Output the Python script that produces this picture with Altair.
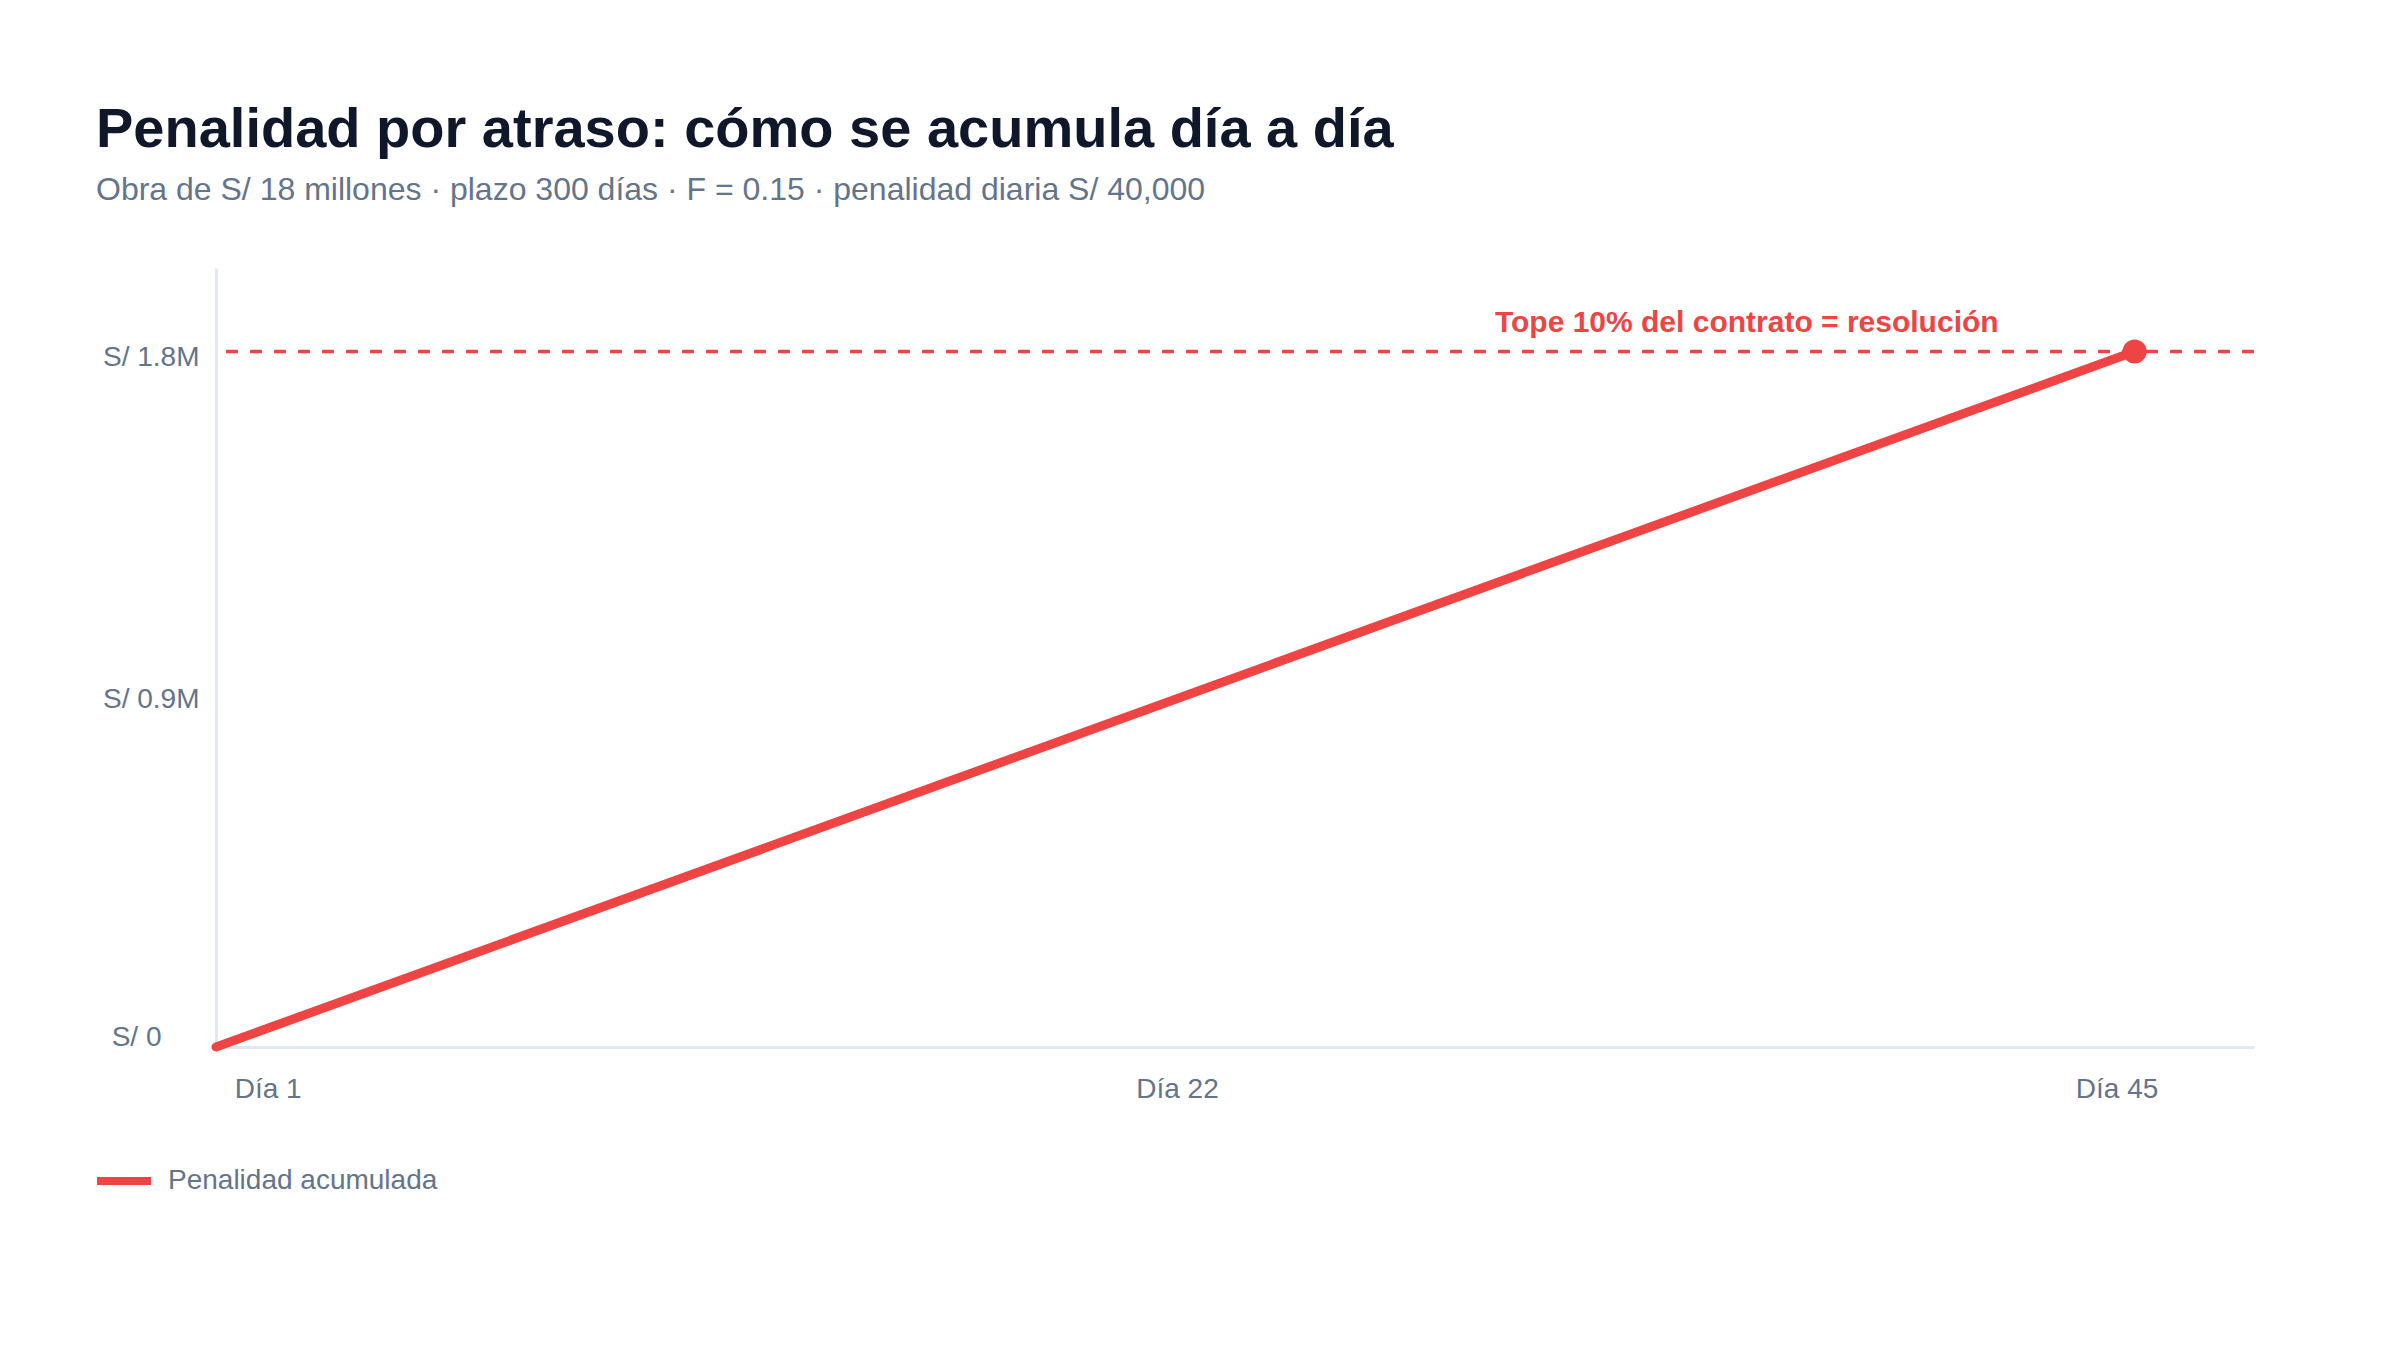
import altair as alt
import pandas as pd

# ---- data ----
dias = [0, 1, 22, 45]
penalidad = [0, 40000, 880000, 1800000]
serie = "Penalidad acumulada"
tope = 1800000
tope_texto = "Tope 10% del contrato = resolución"
x_ticks = [1, 22, 45]
y_ticks = [0, 900000, 1800000]
x_dominio = [0, 47.8]
y_dominio = [0, 2016000]

titulo = "Penalidad por atraso: cómo se acumula día a día"
subtitulo = "Obra de S/ 18 millones · plazo 300 días · F = 0.15 · penalidad diaria S/ 40,000"

RED = "#ef4444"
SLATE = "#64748b"
AXIS = "#e2e8f0"
FONT = "Liberation Sans"

df = pd.DataFrame({"dia": dias, "valor": penalidad, "serie": [serie] * len(dias)})
df_fin = df.iloc[[-1]]

W, H = 2038, 779

x_label_offset = {
    "condition": [
        {"test": "datum.value == 1", "value": 9},
        {"test": "datum.value == 22", "value": 23},
        {"test": "datum.value == 45", "value": -18},
    ],
    "value": 0,
}
y_label_offset = {
    "condition": [
        {"test": "datum.value == 0", "value": -10},
        {"test": "datum.value == 1800000", "value": 6},
    ],
    "value": 0,
}
y_label_padding = {
    "condition": [{"test": "datum.value == 0", "value": 55}],
    "value": 17,
}

x_enc = alt.X(
    "dia:Q",
    scale=alt.Scale(domain=x_dominio, nice=False, zero=False),
    axis=alt.Axis(
        values=x_ticks,
        labelExpr="'Día ' + datum.value",
        title=None,
        grid=False,
        ticks=False,
        domainColor=AXIS,
        domainWidth=3,
        labelColor=SLATE,
        labelFontSize=28,
        labelFont=FONT,
        labelPadding=28,
        labelFlush=False,
        labelOffset=x_label_offset,
    ),
)
y_enc = alt.Y(
    "valor:Q",
    scale=alt.Scale(domain=y_dominio, nice=False),
    axis=alt.Axis(
        values=y_ticks,
        labelExpr="datum.value == 0 ? 'S/ 0' : 'S/ ' + format(datum.value / 1000000, '.1f') + 'M'",
        title=None,
        grid=False,
        ticks=False,
        domainColor=AXIS,
        domainWidth=3,
        labelColor=SLATE,
        labelFontSize=28,
        labelFont=FONT,
        labelPadding=y_label_padding,
        labelOffset=y_label_offset,
        labelBaseline="middle",
        labelFlush=False,
    ),
)

base = alt.Chart(df)

rule = alt.Chart(pd.DataFrame({"tope": [tope]})).mark_rule(
    color=RED, strokeWidth=3.5, strokeDash=[12, 12]
).encode(y=alt.Y("tope:Q", scale=alt.Scale(domain=y_dominio, nice=False)))

line = base.mark_line(strokeWidth=9, strokeCap="round").encode(
    x=x_enc,
    y=y_enc,
    color=alt.Color(
        "serie:N",
        scale=alt.Scale(domain=[serie], range=[RED]),
        legend=alt.Legend(
            title=None,
            orient="none",
            legendX=-123,
            legendY=882,
            symbolType="stroke",
            symbolSize=2916,
            symbolStrokeWidth=8,
            labelFontSize=28,
            labelFont=FONT,
            labelColor=SLATE,
            labelOffset=13,
            labelLimit=0,
        ),
    ),
)

point = alt.Chart(df_fin).mark_circle(size=580, color=RED, opacity=1).encode(
    x=alt.X("dia:Q"), y=alt.Y("valor:Q")
)

label = alt.Chart(pd.DataFrame({"dia": [dias[-1]], "valor": [tope], "t": [tope_texto]})).mark_text(
    color=RED, font=FONT, fontSize=30, fontWeight="bold", align="right", baseline="middle", dx=-136, dy=-28
).encode(x=alt.X("dia:Q"), y=alt.Y("valor:Q"), text="t:N")

chart = (
    alt.layer(rule, line, point, label)
    .properties(
        width=W,
        height=H,
        autosize=alt.AutoSizeParams(type="none"),
        padding={"left": 208, "top": 260, "right": 130, "bottom": 280},
        title=alt.TitleParams(
            text=titulo,
            subtitle=subtitulo,
            anchor="start",
            frame="group",
            dx=-120,
            offset=61,
            font=FONT,
            fontSize=56,
            fontWeight="bold",
            color="#0f172a",
            subtitleFont=FONT,
            subtitleFontSize=32,
            subtitleColor=SLATE,
            subtitlePadding=16,
        ),
    )
    .configure(background="white")
    .configure_view(strokeWidth=0)
)

chart.save("out.html", embed_options={"renderer": "svg", "actions": False})
